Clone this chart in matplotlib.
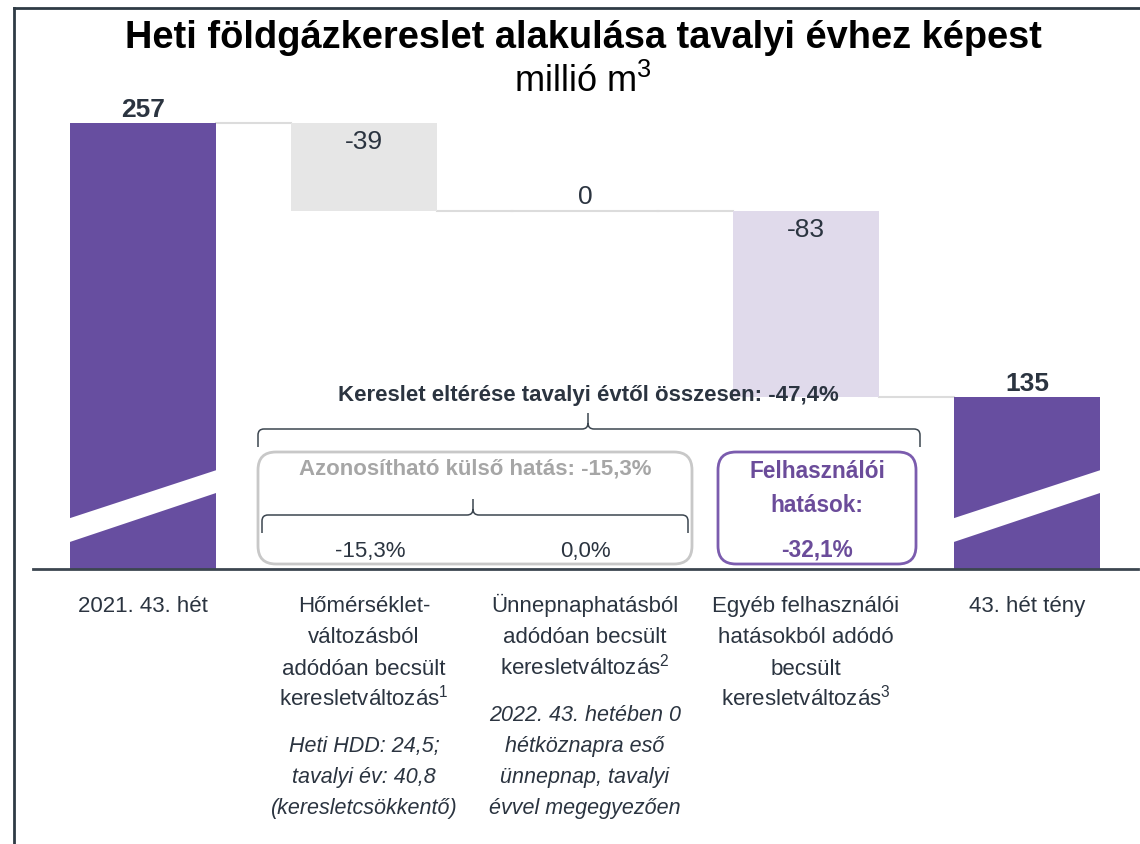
import matplotlib
matplotlib.use("Agg")
import matplotlib.pyplot as plt
from matplotlib.patches import Polygon, FancyBboxPatch, PathPatch
from matplotlib.path import Path
from matplotlib.transforms import Affine2D
from matplotlib import font_manager

# --- data -------------------------------------------------------------
categories = [["2021. 43. hét"],
              ["Hőmérséklet-", "változásból", "adódóan becsült", "keresletváltozás$^{1}$"],
              ["Ünnepnaphatásból", "adódóan becsült", "keresletváltozás$^{2}$"],
              ["Egyéb felhasználói", "hatásokból adódó", "becsült", "keresletváltozás$^{3}$"],
              ["43. hét tény"]]
notes = [[],
         ["Heti HDD: 24,5;", "tavalyi év: 40,8", "(keresletcsökkentő)"],
         ["2022. 43. hetében 0", "hétköznapra eső", "ünnepnap, tavalyi", "évvel megegyezően"],
         [], []]
start_value = 257
changes = [-39, 0, -83]
end_value = 135
total_pct = "-47,4%"
external_pct = "-15,3%"
part_pcts = ["-15,3%", "0,0%"]
user_pct = "-32,1%"

purple = "#674ea0"
change_colors = ["#e6e6e6", "#e6e6e6", "#e0daeb"]
txt = "#2b3440"

fonts = {f.name for f in font_manager.fontManager.ttflist}
fam = "Liberation Sans" if "Liberation Sans" in fonts else "DejaVu Sans"
plt.rcParams["font.family"] = fam
plt.rcParams["mathtext.fontset"] = "custom"
plt.rcParams["mathtext.rm"] = fam
plt.rcParams["mathtext.it"] = fam + ":italic"

W, H, DPI = 1140, 845, 100
fig = plt.figure(figsize=(W / DPI, H / DPI), dpi=DPI)
# pixel coordinates, origin top-left
PX = Affine2D().scale(1 / DPI, -1 / DPI).translate(0, H / DPI) + fig.dpi_scale_trans

# broken axis: bottom of the plot corresponds to ~58.7
y0, scale = 58.7, 2.25
ax_top_px, ax_bot_px = 95, 570
ax = fig.add_axes([32.5 / W, 1 - ax_bot_px / H, 1105 / W, (ax_bot_px - ax_top_px) / H])
ax.set_xlim(-0.5, 4.5)
ax.set_ylim(y0, y0 + (ax_bot_px - ax_top_px) / scale)
ax.axis("off")

bw = 0.665
levels = [start_value]
for c in changes:
    levels.append(levels[-1] + c)

# totals
ax.bar(0, start_value, width=bw, color=purple, zorder=2)
ax.bar(4, end_value, width=bw, color=purple, zorder=2)
# changes
for i, c in enumerate(changes):
    ax.bar(i + 1, c, bottom=levels[i], width=bw, color=change_colors[i], zorder=2)

# connectors
conn = "#dcdcdc"
for i in range(4):
    lvl = levels[i] if i < 3 else end_value
    ax.plot([i + bw / 2, i + 1 - bw / 2], [lvl, lvl], color=conn, lw=1.5, zorder=1)
ax.plot([2 - bw / 2, 2 + bw / 2], [levels[2], levels[2]], color=conn, lw=1.5, zorder=1)

# break stripes
for xi in (0, 4):
    xl, xr = xi - bw / 2 - 0.02, xi + bw / 2 + 0.02
    ax.add_patch(Polygon([(xl, 70.0), (xl, 80.6), (xr, 103.3), (xr, 93.2)],
                         closed=True, color="white", zorder=3, lw=0))

# value labels
def off(px):
    return px / scale

ax.text(0, start_value + off(14), str(start_value), ha="center", va="center",
        fontsize=19, fontweight="bold", color=txt)
ax.text(4, end_value + off(14), str(end_value), ha="center", va="center",
        fontsize=19, fontweight="bold", color=txt)
for i, c in enumerate(changes):
    y = levels[i] - off(18) if c < 0 else levels[i] + off(15)
    ax.text(i + 1, y, str(c), ha="center", va="center", fontsize=19, color=txt)

# baseline
ax.plot([-0.5, 4.5], [y0, y0], color="#3c4650", lw=2, clip_on=False, zorder=4)

# category labels
step = 31.3
for i, (cat, note) in enumerate(zip(categories, notes)):
    xd = ax.transData.transform((i, 0))[0]
    xfig = xd / W
    base = 612
    for k, line in enumerate(cat):
        fig.text(xfig, 1 - (base + k * step) / H, line, ha="center", va="baseline",
                 fontsize=16, color=txt)
    nbase = base + (len(cat) - 1) * step + 46
    for k, line in enumerate(note):
        fig.text(xfig, 1 - (nbase + k * step) / H, line, ha="center", va="baseline",
                 fontsize=15.5, style="italic", color=txt)

# title
fig.text(583, 38, "Heti földgázkereslet alakulása tavalyi évhez képest", transform=PX,
         ha="center", va="center", fontsize=27.4, fontweight="bold", color="black")
fig.text(583, 82, "millió m$^3$", transform=PX, ha="center", va="center",
         fontsize=26, color="black")

# braces
def brace(x0, x1, xm, y, drop, rise, r=6):
    verts = [(x0, y + drop), (x0, y + r), (x0, y), (x0 + r, y),
             (xm - r, y), (xm, y), (xm, y - r), (xm, y - rise),
             (xm, y - r), (xm, y), (xm + r, y),
             (x1 - r, y), (x1, y), (x1, y + r), (x1, y + drop)]
    codes = [Path.MOVETO, Path.LINETO, Path.CURVE3, Path.CURVE3,
             Path.LINETO, Path.CURVE3, Path.CURVE3, Path.LINETO,
             Path.MOVETO, Path.CURVE3, Path.CURVE3,
             Path.LINETO, Path.CURVE3, Path.CURVE3, Path.LINETO]
    fig.add_artist(PathPatch(Path(verts, codes), transform=PX, fill=False,
                             edgecolor="#3c4650", lw=1.1))

fig.text(588, 395, f"Kereslet eltérése tavalyi évtől összesen: {total_pct}", transform=PX,
         ha="center", va="center", fontsize=16, fontweight="bold", color=txt)
brace(258, 920, 588, 430, 18, 16)

# external effects box
fig.add_artist(FancyBboxPatch((258, 453), 434, 112, transform=PX,
                              boxstyle="round,pad=0,rounding_size=18",
                              fill=False, edgecolor="#c8c8c8", lw=2))
fig.text(475, 469, f"Azonosítható külső hatás: {external_pct}", transform=PX,
         ha="center", va="center", fontsize=16, fontweight="bold", color="#a6a6a6")
brace(262, 688, 473, 516, 18, 16)
fig.text(370, 551, part_pcts[0], transform=PX, ha="center", va="center",
         fontsize=16, color=txt)
fig.text(585, 551, part_pcts[1], transform=PX, ha="center", va="center",
         fontsize=16, color=txt)

# user effects box
fig.add_artist(FancyBboxPatch((718, 453), 198, 112, transform=PX,
                              boxstyle="round,pad=0,rounding_size=18",
                              fill=False, edgecolor="#7b5cae", lw=2))
fig.text(817, 471, "Felhasználói", transform=PX, ha="center", va="center",
         fontsize=16.3, fontweight="bold", color="#6b4c9a")
fig.text(817, 506, "hatások:", transform=PX, ha="center", va="center",
         fontsize=16.3, fontweight="bold", color="#6b4c9a")
fig.text(817, 550, user_pct, transform=PX, ha="center", va="center",
         fontsize=16.3, fontweight="bold", color="#6b4c9a")

# frame lines
fig.add_artist(plt.Line2D([14, 14], [9, 845], transform=PX, color="#2f3b45", lw=2))
fig.add_artist(plt.Line2D([14, 1140], [9, 9], transform=PX, color="#2f3b45", lw=2))

fig.savefig("out.png", dpi=DPI)
